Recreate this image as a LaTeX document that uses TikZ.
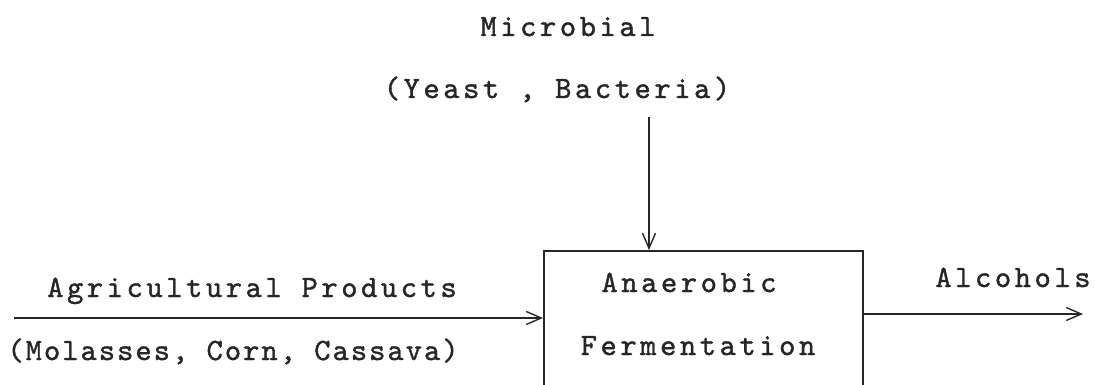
\documentclass[tikz,border=0pt]{standalone}
\usepackage{fontspec}
\setmonofont{lmmono10-regular.otf}[LetterSpace=11.5,FakeBold=1.2]
\newfontfamily\narrowtt{lmmono10-regular.otf}[LetterSpace=6.5,FakeBold=1.2]
\usetikzlibrary{arrows.meta}
\tikzset{
  lbl/.style={anchor=base, inner sep=0pt, text=black!85,
    font=\ttfamily\fontsize{31}{31}\selectfont},
  lblnarrow/.style={lbl, font=\narrowtt\fontsize{31}{31}\selectfont},
  flow/.style={draw=black!85, line width=1.4pt,
    -{Straight Barb[length=15pt,width=13pt,line width=1.4pt]}},
  procbox/.style={draw=black!85, line width=2.4pt, inner sep=0pt}
}
\begin{document}
\begin{tikzpicture}[x=1pt,y=-1pt]
\useasboundingbox (0,0) rectangle (1095,385);
\clip (0,0) rectangle (1095,385);
\node[procbox, minimum width=319pt, minimum height=200pt, anchor=north west] (ferm) at (543,250) {};
\node[lbl] (micro) at (568,36) {Microbial};
\node[lbl] (yeast) at (557,98) {(Yeast , Bacteria)};
\node[lbl] (agri) at (252,297) {Agricultural Products};
\node[lblnarrow] (mol) at (233,360) {(Molasses, Corn, Cassava)};
\node[lbl] (anae) at (689,292) {Anaerobic};
\node[lbl] (fermt) at (698,355) {Fermentation};
\node[lbl] (alc) at (1013,287) {Alcohols};
\coordinate (vtop) at (649,117);
\coordinate (lin) at (14,318);
\coordinate (rout) at (1083,314);
\draw[flow] (vtop) -- (vtop |- ferm.north);
\draw[flow] (lin) -- (lin -| ferm.west);
\draw[flow] (rout -| ferm.east) -- (rout);
\end{tikzpicture}
\end{document}
